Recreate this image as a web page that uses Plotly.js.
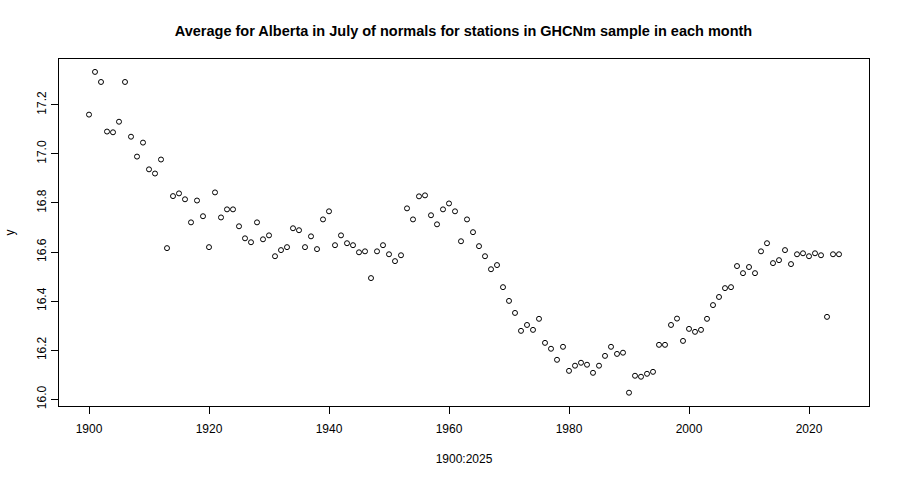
<!DOCTYPE html>
<html>
<head>
<meta charset="utf-8">
<script src="https://cdn.plot.ly/plotly-3.0.1.min.js"></script>
<style>html,body{margin:0;padding:0;background:#fff;}#chart{width:900px;height:480px;}</style>
</head>
<body>
<div id="chart"></div>
<script>
var years = [];
for (var yr = 1900; yr <= 2025; yr++) years.push(yr);

var values1900s = [17.160, 17.334, 17.293, 17.091, 17.088, 17.131, 17.293, 17.070, 16.989, 17.046,
                   16.937, 16.920, 16.977, 16.616, 16.828, 16.839, 16.815, 16.721, 16.810, 16.746];
var values1920s = [16.620, 16.843, 16.741, 16.774, 16.774, 16.705, 16.656, 16.640, 16.721, 16.652,
                   16.668, 16.583, 16.608, 16.620, 16.697, 16.689, 16.620, 16.664, 16.612, 16.733];
var values1940s = [16.766, 16.628, 16.668, 16.636, 16.628, 16.599, 16.603, 16.494, 16.603, 16.628,
                   16.591, 16.563, 16.587, 16.778, 16.733, 16.827, 16.831, 16.750, 16.713, 16.774];
var values1960s = [16.798, 16.766, 16.644, 16.733, 16.681, 16.624, 16.583, 16.530, 16.547, 16.457,
                   16.401, 16.352, 16.279, 16.303, 16.283, 16.328, 16.230, 16.206, 16.161, 16.214];
var values1980s = [16.116, 16.137, 16.149, 16.141, 16.108, 16.137, 16.177, 16.214, 16.185, 16.190,
                   16.027, 16.096, 16.092, 16.104, 16.112, 16.222, 16.222, 16.303, 16.329, 16.238];
var values2000s = [16.287, 16.275, 16.283, 16.328, 16.384, 16.417, 16.453, 16.457, 16.543, 16.514,
                   16.539, 16.514, 16.603, 16.636, 16.555, 16.567, 16.608, 16.551, 16.591, 16.595];
var values2020s = [16.583, 16.595, 16.587, 16.336, 16.591, 16.591];

var values = [].concat(values1900s, values1920s, values1940s, values1960s, values1980s, values2000s, values2020s);

var xTicks = [1900, 1920, 1940, 1960, 1980, 2000, 2020];
var yTicks = [16.0, 16.2, 16.4, 16.6, 16.8, 17.0, 17.2];
var yTickText = ["16.0", "16.2", "16.4", "16.6", "16.8", "17.0", "17.2"];

var FONT = "Liberation Sans, Arial, sans-serif";

var trace = {
  x: years,
  y: values,
  type: "scatter",
  mode: "markers",
  marker: {symbol: "circle-open", size: 5, color: "#000", line: {width: 1, color: "#000"}},
  hoverinfo: "x+y"
};

var layout = {
  width: 900, height: 480,
  paper_bgcolor: "#fff", plot_bgcolor: "#fff",
  margin: {l: 59, r: 31, t: 59, b: 74},
  showlegend: false,
  font: {family: FONT, color: "#000", size: 12},
  title: {
    text: "<b>Average for Alberta in July of normals for stations in GHCNm sample in each month</b>",
    font: {family: FONT, size: 14.5, color: "#000"},
    x: 0.515, xanchor: "center", y: 0.935, yanchor: "middle"
  },
  xaxis: {
    range: [1895, 2030],
    tickvals: xTicks,
    ticktext: xTicks.map(String),
    showgrid: false, zeroline: false,
    showline: true, mirror: true, linecolor: "#000", linewidth: 1,
    ticks: "outside", ticklen: 7, tickcolor: "#000", tickwidth: 1,
    ticklabelstandoff: 5,
    tickfont: {family: FONT, size: 12, color: "#000"},
    title: {text: "1900:2025", font: {family: FONT, size: 12, color: "#000"}, standoff: 19}
  },
  yaxis: {
    range: [15.9728, 17.3866],
    tickvals: yTicks,
    ticktext: yTickText,
    tickangle: -90,
    showgrid: false, zeroline: false,
    showline: true, mirror: true, linecolor: "#000", linewidth: 1,
    ticks: "outside", ticklen: 7, tickcolor: "#000", tickwidth: 1,
    tickfont: {family: FONT, size: 12, color: "#000"},
    title: {text: "y", font: {family: FONT, size: 12, color: "#000"}, standoff: 18}
  }
};

Plotly.newPlot("chart", [trace], layout, {displayModeBar: false});
</script>
</body>
</html>
